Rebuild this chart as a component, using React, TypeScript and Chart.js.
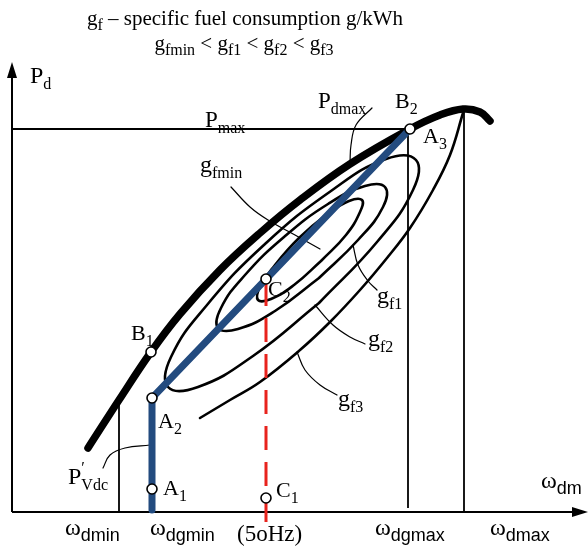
import React, { useEffect, useRef } from 'react';
import { Chart, registerables } from 'chart.js';
Chart.register(...registerables);

// Drawing units: x = ω_dm, y = P_d, origin where the axes cross.
const pdmaxCurve = [[76,64],[107,112],[139,160],[168,198],[208,242],[248,279],[288,312],[338,348],[398,383],[428,397],[451,403],[468,400],[478,391]];
const operatingLine = [[140,2],[140,114],[398,383]];
const fiftyHzLine = [[254,230],[254,-15]];
const gfminContour = [[309,251],[282,227],[259,213],[246,212],[248,225],[263,247],[287,274],[314,297],[337,311],[350,312],[348,300],[334,277],[309,251]];
const gf1Contour = [[307,234],[263,201],[226,183],[206,184],[209,204],[233,237],[272,275],[316,308],[353,326],[373,325],[371,305],[346,272],[307,234]];
const gf2Contour = [[307,209],[241,156],[186,125],[156,125],[159,155],[195,207],[253,268],[319,321],[374,353],[404,352],[401,322],[365,270],[307,209]];
const gf3Contour = [[188,94],[218,112],[248,130],[288,162],[318,190],[348,222],[375,254],[398,284],[421,322],[438,357],[451,399]];
const pmaxLine = [[0,383],[398,383]];
const wdminLine = [[107,0],[107,112]];
const wdgmaxLine = [[396,4],[396,383]];
const wdmaxLine = [[452,0],[452,402]];
const yAxisLine = [[0,0],[0,436]];
const xAxisLine = [[0,0],[562,0]];
const yArrow = [[0,450],[-5,434],[5,434]];
const xArrow = [[576,0],[560,5],[560,-5]];
const leaderPdmax = [[360,404],[344,387],[339,367],[338,349]];
const leaderGfmin = [[219,325],[238,305],[256,292],[283,277],[308,263]];
const leaderGf1 = [[341,267],[346,247],[356,231],[365,222]];
const leaderGf2 = [[303,207],[321,187],[338,175],[353,168]];
const leaderGf3 = [[285,160],[293,142],[308,127],[325,117]];
const leaderVdc = [[91,44],[98,57],[113,64],[138,67]];
const markerPoints = [[140,23],[140,114],[139,160],[398,383],[254,233],[254,14]];

const titleLines = [
  { text: 'g_{f} – specific fuel consumption g/kWh', x: 233, y: 487 },
  { text: 'g_{fmin} < g_{f1} < g_{f2} < g_{f3}', x: 232, y: 462 },
];
const pointLabels = [
  { text: 'P_{d}', x: 18, y: 429, size: 24 },
  { text: 'P_{max}', x: 193, y: 385, size: 23 },
  { text: 'P_{dmax}', x: 306, y: 404, size: 23 },
  { text: 'B_{2}', x: 383, y: 404, size: 22 },
  { text: 'A_{3}', x: 411, y: 369, size: 22 },
  { text: 'g_{fmin}', x: 188, y: 340, size: 24 },
  { text: 'B_{1}', x: 119, y: 172, size: 22 },
  { text: 'C_{2}', x: 256, y: 216, size: 22 },
  { text: 'g_{f1}', x: 365, y: 209, size: 24 },
  { text: 'g_{f2}', x: 356, y: 166, size: 24 },
  { text: 'g_{f3}', x: 326, y: 106, size: 24 },
  { text: 'A_{2}', x: 146, y: 84, size: 22 },
  { text: 'A_{1}', x: 151, y: 17, size: 22 },
  { text: 'C_{1}', x: 264, y: 15, size: 22 },
  { text: 'P^{′}_{Vdc}', x: 56, y: 28, size: 24 },
];
const axisLabels = [
  { text: 'ω_{dm}', x: 529, y: 24 },
  { text: 'ω_{dmin}', x: 53, y: -23 },
  { text: 'ω_{dgmin}', x: 138, y: -23 },
  { text: 'ω_{dgmax}', x: 363, y: -23 },
  { text: 'ω_{dmax}', x: 478, y: -23 },
];
const hzLabel = { text: '(5oHz)', x: 225, y: -29 };

const SERIF = '"Liberation Serif", "Times New Roman", serif';
const SANS = '"Liberation Sans", Arial, sans-serif';

const pts = (a: number[][]) => a.map(([x, y]) => ({ x, y }));

function line(data: number[][], color: string, width: number, order: number, extra: any = {}) {
  return {
    data: pts(data),
    showLine: true,
    borderColor: color,
    borderWidth: width,
    pointRadius: 0,
    pointHoverRadius: 0,
    tension: 0,
    fill: false,
    borderCapStyle: 'round',
    borderJoinStyle: 'round',
    order,
    ...extra,
  };
}

function parse(str: string) {
  const segs: { t: string; k: string }[] = [];
  const re = /([_^])\{([^}]*)\}|([^_^]+)/g;
  let m: RegExpExecArray | null;
  while ((m = re.exec(str))) {
    if (m[3] !== undefined) segs.push({ t: m[3], k: 'm' });
    else segs.push({ t: m[2], k: m[1] === '_' ? 's' : 'p' });
  }
  return segs;
}

function drawRich(ctx: CanvasRenderingContext2D, str: string, px: number, py: number, size: number, subSize: number, subFam: string, align: string) {
  const segs = parse(str);
  const fontOf = (k: string) => (k === 'm' ? `${size}px ${SERIF}` : `${subSize}px ${k === 's' ? subFam : SERIF}`);
  const widths = segs.map((s) => { ctx.font = fontOf(s.k); return ctx.measureText(s.t).width; });
  let total = 0;
  segs.forEach((s, i) => { if (!(s.k === 'p' && segs[i + 1] && segs[i + 1].k === 's')) total += widths[i]; });
  let x = align === 'center' ? px - total / 2 : px;
  ctx.textAlign = 'left';
  ctx.textBaseline = 'alphabetic';
  ctx.fillStyle = '#000';
  segs.forEach((s, i) => {
    ctx.font = fontOf(s.k);
    let y = py;
    if (s.k === 's') y = py + size * 0.25;
    if (s.k === 'p') y = py - size * 0.45;
    ctx.fillText(s.t, x, y);
    if (!(s.k === 'p' && segs[i + 1] && segs[i + 1].k === 's')) x += widths[i];
  });
}

const annotations = {
  id: 'annotations',
  afterDatasetsDraw(chart: any) {
    const { ctx, scales } = chart;
    const X = (v: number) => scales.x.getPixelForValue(v);
    const Y = (v: number) => scales.y.getPixelForValue(v);
    ctx.save();
    [yArrow, xArrow].forEach((tri) => {
      ctx.beginPath();
      tri.forEach(([a, b], i) => (i ? ctx.lineTo(X(a), Y(b)) : ctx.moveTo(X(a), Y(b))));
      ctx.closePath();
      ctx.fillStyle = '#000';
      ctx.fill();
    });
    titleLines.forEach((l) => drawRich(ctx, l.text, X(l.x), Y(l.y), 21, 16, SERIF, 'center'));
    pointLabels.forEach((l) => drawRich(ctx, l.text, X(l.x), Y(l.y), l.size, 16, SERIF, 'left'));
    axisLabels.forEach((l) => drawRich(ctx, l.text, X(l.x), Y(l.y), 24, 18, SANS, 'left'));
    drawRich(ctx, hzLabel.text, X(hzLabel.x), Y(hzLabel.y), 23, 16, SERIF, 'left');
    ctx.restore();
  },
};

export default function App() {
  const ref = useRef<HTMLCanvasElement>(null);
  useEffect(() => {
    if (!ref.current) return;
    const thin = '#000';
    const chart = new Chart(ref.current, {
      type: 'scatter',
      data: {
        datasets: [
          {
            data: pts(markerPoints),
            showLine: false,
            pointRadius: 5,
            pointHoverRadius: 5,
            pointBorderWidth: 1.6,
            pointBackgroundColor: '#fff',
            pointBorderColor: '#000',
            order: 0,
          },
          line(operatingLine, '#234b7f', 7, 1),
          line(fiftyHzLine, '#e8231d', 3, 2, { borderDash: [24, 12], borderCapStyle: 'butt' }),
          line(pdmaxCurve, '#000', 7.5, 3, { tension: 0.4 }),
          line(gfminContour, '#000', 2.6, 4, { tension: 0.45 }),
          line(gf1Contour, '#000', 2.6, 4, { tension: 0.45 }),
          line(gf2Contour, '#000', 2.6, 4, { tension: 0.45 }),
          line(gf3Contour, '#000', 2.6, 4, { tension: 0.4 }),
          line(pmaxLine, thin, 1.8, 5, { borderCapStyle: 'butt' }),
          line(wdminLine, thin, 1.8, 5, { borderCapStyle: 'butt' }),
          line(wdgmaxLine, thin, 1.8, 5, { borderCapStyle: 'butt' }),
          line(wdmaxLine, thin, 1.8, 5, { borderCapStyle: 'butt' }),
          line(yAxisLine, thin, 2, 5, { borderCapStyle: 'butt' }),
          line(xAxisLine, thin, 2, 5, { borderCapStyle: 'butt' }),
          line(leaderPdmax, thin, 1.2, 5, { tension: 0.4 }),
          line(leaderGfmin, thin, 1.2, 5, { tension: 0.4 }),
          line(leaderGf1, thin, 1.2, 5, { tension: 0.4 }),
          line(leaderGf2, thin, 1.2, 5, { tension: 0.4 }),
          line(leaderGf3, thin, 1.2, 5, { tension: 0.4 }),
          line(leaderVdc, thin, 1.2, 5, { tension: 0.4 }),
        ] as any,
      },
      options: {
        responsive: false,
        maintainAspectRatio: false,
        animation: false,
        devicePixelRatio: 1,
        events: [],
        layout: { padding: 0, autoPadding: false },
        scales: {
          x: { type: 'linear', min: -12, max: 576, display: false },
          y: { type: 'linear', min: -36, max: 512, display: false },
        },
        plugins: { legend: { display: false }, tooltip: { enabled: false } },
      },
      plugins: [annotations],
    });
    return () => chart.destroy();
  }, []);
  return (
    <div style={{ position: 'absolute', left: 0, top: 0, width: 588, height: 548, background: '#fff' }}>
      <canvas ref={ref} width={588} height={548} />
    </div>
  );
}
